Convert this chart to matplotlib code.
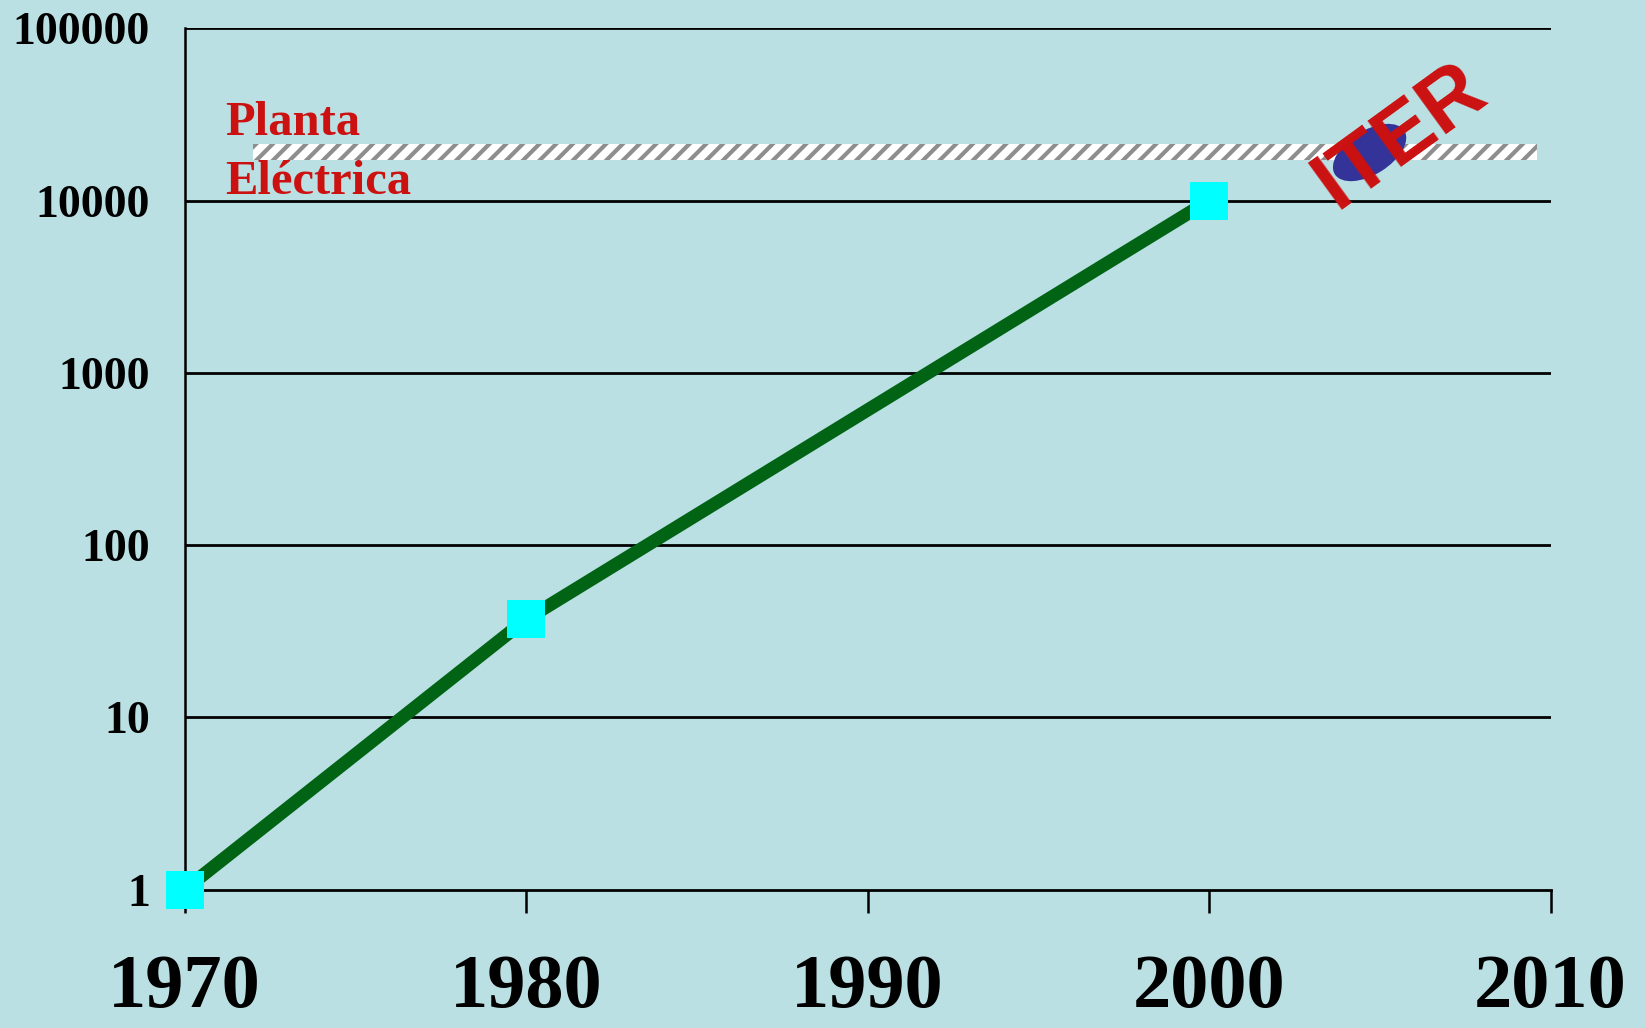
import matplotlib
matplotlib.use("Agg")
import matplotlib.pyplot as plt
import matplotlib.transforms as mtrans
from matplotlib.patches import Rectangle, Ellipse

years = [1970, 1980, 2000]
values = [1, 37, 10000]
xticks = [1970, 1980, 1990, 2000, 2010]
yticks = [1, 10, 100, 1000, 10000, 100000]
ytick_labels = ["1", "10", "100", "1000", "10000", "100000"]
band_x = [1972, 2009.6]
band_y = [17100, 21400]
iter_pos = (2004.7, 19000)

bg = "#BAE0E3"
plt.rcParams['hatch.linewidth'] = 3.0
plt.rcParams['hatch.color'] = "#8e8e8e"

fig = plt.figure(figsize=(16.45, 10.28), dpi=100, facecolor=bg)
ax = fig.add_axes([0.1122, 0.1346, 0.9426 - 0.1122, 0.9725 - 0.1346])
ax.set_facecolor(bg)
ax.set_yscale("log")
ax.set_xlim(1970, 2010)
ax.set_ylim(1, 100000)

for y in yticks[1:]:
    ax.axhline(y, color="black", lw=2.0, zorder=1)

ax.spines['top'].set_visible(False)
ax.spines['right'].set_visible(False)
ax.spines['left'].set_linewidth(1.8)
ax.spines['bottom'].set_linewidth(2.0)

ax.set_xticks(xticks)
ax.set_xticklabels([str(x) for x in xticks], fontfamily="Liberation Serif",
                   fontweight="bold", fontsize=55)
ax.tick_params(axis='x', direction='out', length=16.5, width=1.8, pad=30)
ax.set_yticks(yticks)
ax.set_yticklabels(ytick_labels, fontfamily="Liberation Serif",
                   fontweight="bold", fontsize=33)
ax.yaxis.set_minor_locator(matplotlib.ticker.NullLocator())
ax.tick_params(axis='y', length=0, pad=25)

rect = Rectangle((band_x[0], band_y[0]), band_x[1] - band_x[0], band_y[1] - band_y[0],
                 facecolor="white", edgecolor="#8e8e8e", hatch="//", lw=0, zorder=2)
ax.add_patch(rect)

ax.plot(years, values, color="#006414", lw=9.5, zorder=3, solid_capstyle='butt')
ax.plot(years, values, ls='none', marker='s', markersize=28, color="#00FFFF",
        markeredgewidth=0, zorder=4, clip_on=False)

ell = Ellipse((0, 0), width=82, height=44, angle=32, facecolor="#333399",
              edgecolor="none", zorder=5)
ell.set_transform(mtrans.Affine2D().translate(*ax.transData.transform(iter_pos)))
ax.add_artist(ell)

ax.text(2005.6, 23500, "ITER", color="#CC1111", fontfamily="Liberation Sans",
        fontweight="bold", fontsize=60, rotation=36, rotation_mode='anchor',
        ha='center', va='center', zorder=6)

ax.text(1971.2, 19000, "Planta\nEléctrica", color="#CC1111",
        fontfamily="Liberation Serif", fontweight="bold", fontsize=35,
        ha='left', va='center', linespacing=1.45, zorder=6)

fig.savefig("out.png", dpi=100, facecolor=bg)
